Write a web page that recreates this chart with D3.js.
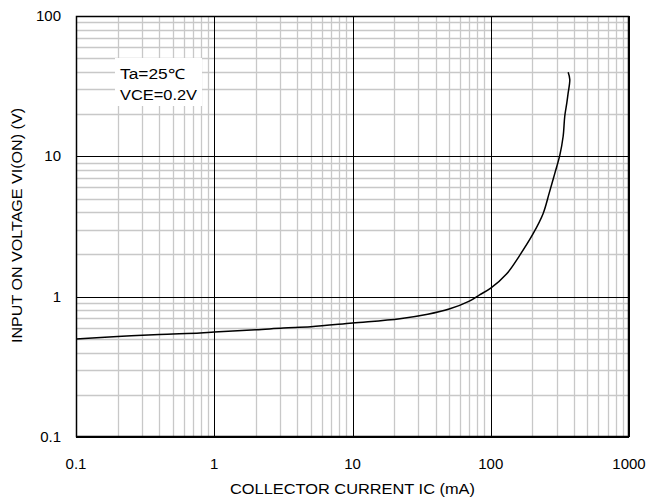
<!DOCTYPE html>
<html><head><meta charset="utf-8">
<script src="https://cdn.jsdelivr.net/npm/d3@7"></script>
<style>body{margin:0;background:#fff}svg{display:block}text{font-family:"Liberation Sans",Arial,sans-serif;fill:#000}</style>
</head><body>
<svg id="c" width="649" height="498"></svg>
<script>
const xTicks = [0.1, 1, 10, 100, 1000];
const xTickLabels = ["0.1", "1", "10", "100", "1000"];
const yTicks = [0.1, 1, 10, 100];
const yTickLabels = ["0.1", "1", "10", "100"];
const currentIC = [0.1, 0.2, 0.4, 0.79, 1, 2, 3.16, 5, 10, 22, 35, 50, 70, 83, 100, 130, 162, 203, 239, 265, 290, 316, 334, 343, 355, 363, 373, 363];
const voltageVI = [0.50, 0.52, 0.538, 0.551, 0.56, 0.58, 0.598, 0.61, 0.649, 0.697, 0.75, 0.817, 0.93, 1.03, 1.15, 1.45, 1.97, 2.82, 3.9, 5.49, 7.5, 10.2, 13.9, 19.3, 24, 28.3, 35.3, 39.7];
const legendLines = ["Ta=25\u2103", "VCE=0.2V"];

const svg = d3.select("#c");
const L = 76, R = 629, T = 16, B = 437;
const x = d3.scaleLog().domain([0.1, 1000]).range([L, R]);
const y = d3.scaleLog().domain([0.1, 100]).range([B, T]);

// minor grid
const minorX = [], minorY = [];
for (let d = 0.1; d < 999; d *= 10) for (let k = 2; k <= 9; k++) minorX.push(d * k);
for (let d = 0.1; d < 99; d *= 10) for (let k = 2; k <= 9; k++) minorY.push(d * k);
const g = svg.append("g");
g.selectAll(".mx").data(minorX).join("line")
  .attr("x1", d => Math.round(x(d)) + 0.5).attr("x2", d => Math.round(x(d)) + 0.5)
  .attr("y1", T).attr("y2", B).attr("stroke", "#c8c8c8").attr("stroke-width", 1.3);
g.selectAll(".my").data(minorY).join("line")
  .attr("y1", d => Math.round(y(d)) + 0.5).attr("y2", d => Math.round(y(d)) + 0.5)
  .attr("x1", L).attr("x2", R).attr("stroke", "#c8c8c8").attr("stroke-width", 1.3);
// major grid
g.selectAll(".Mx").data(xTicks).join("line")
  .attr("x1", d => Math.round(x(d)) + 0.5).attr("x2", d => Math.round(x(d)) + 0.5)
  .attr("y1", T).attr("y2", B).attr("stroke", "#000").attr("stroke-width", 1);
g.selectAll(".My").data(yTicks).join("line")
  .attr("y1", d => Math.round(y(d)) + 0.5).attr("y2", d => Math.round(y(d)) + 0.5)
  .attr("x1", L).attr("x2", R).attr("stroke", "#000").attr("stroke-width", 1);

// legend box
svg.append("rect").attr("x", 115).attr("y", 58).attr("width", 87).attr("height", 48).attr("fill", "#fff");
const legendWidths = [65, 77];
svg.selectAll(".lg").data(legendLines).join("text")
  .attr("x", 120).attr("y", (d, i) => 79 + i * 21).attr("font-size", 14)
  .attr("textLength", (d, i) => legendWidths[i]).attr("lengthAdjust", "spacingAndGlyphs")
  .text(d => d);

// curve
const pts = currentIC.map((c, i) => [c, voltageVI[i]]);
svg.append("path").datum(pts)
  .attr("d", d3.line().x(d => x(d[0])).y(d => y(d[1])).curve(d3.curveCatmullRom))
  .attr("fill", "none").attr("stroke", "#000").attr("stroke-width", 1.5);

// frame
svg.append("rect").attr("x", L + 0.5).attr("y", T + 0.5).attr("width", R - L - 1).attr("height", B - T - 1)
  .attr("fill", "none").attr("stroke", "#000").attr("stroke-width", 1.5);

// tick labels
svg.selectAll(".xt").data(xTicks).join("text")
  .attr("x", d => x(d)).attr("y", 469).attr("text-anchor", "middle").attr("font-size", 15)
  .text((d, i) => xTickLabels[i]);
svg.selectAll(".yt").data(yTicks).join("text")
  .attr("x", 61).attr("y", d => y(d) + 5).attr("text-anchor", "end").attr("font-size", 15)
  .text((d, i) => yTickLabels[i]);

svg.append("text").attr("x", 230).attr("y", 494).attr("font-size", 14)
  .attr("textLength", 245).attr("lengthAdjust", "spacingAndGlyphs")
  .text("COLLECTOR CURRENT IC (mA)");
svg.append("text").attr("transform", "translate(22,343) rotate(-90)").attr("font-size", 14)
  .attr("textLength", 235).attr("lengthAdjust", "spacingAndGlyphs")
  .text("INPUT ON VOLTAGE VI(ON) (V)");
</script>
</body></html>
